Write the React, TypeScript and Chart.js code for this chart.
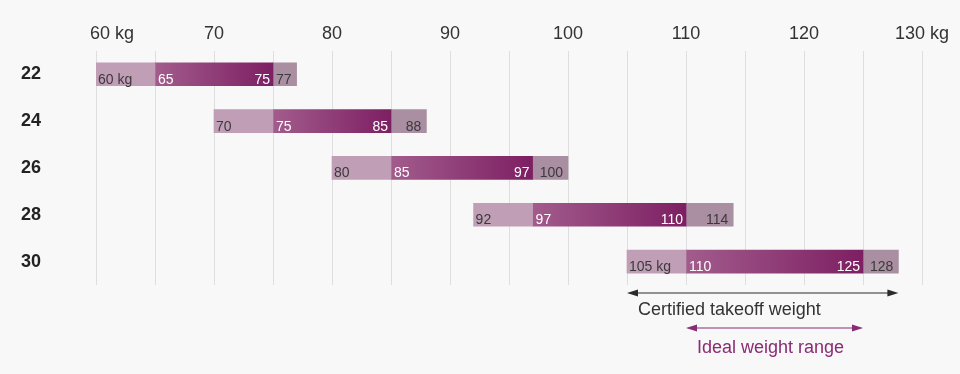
import React, { useEffect, useRef } from "react";
import { Chart, registerables } from "chart.js";

Chart.register(...registerables);

// ---- data ----
const rowLabels = ["22", "24", "26", "28", "30"];
const certMin = [60, 70, 80, 92, 105];
const idealMin = [65, 75, 85, 97, 110];
const idealMax = [75, 85, 97, 110, 125];
const certMax = [77, 88, 100, 114, 128];
const certMinLabels = ["60 kg", "70", "80", "92", "105 kg"];
const idealMinLabels = ["65", "75", "85", "97", "110"];
const idealMaxLabels = ["75", "85", "97", "110", "125"];
const certMaxLabels = ["77", "88", "100", "114", "128"];
const xMin = 60;
const xMax = 130;
const xStep = 5;
const xTickLabels: Record<number, string> = {
  60: "60 kg", 70: "70", 80: "80", 90: "90", 100: "100", 110: "110", 120: "120", 130: "130 kg",
};
const certifiedRange = [105, 128];
const idealRange = [110, 125];
const certifiedText = "Certified takeoff weight";
const idealText = "Ideal weight range";

const FONT = "'Liberation Sans', Arial, Helvetica, sans-serif";
const BG = "#f8f8f8";

const labelsPlugin = {
  id: "labelsPlugin",
  afterDraw(chart: any) {
    const ctx = chart.ctx;
    const xs = chart.scales.x;
    const meta = chart.getDatasetMeta(1);
    const area = chart.chartArea;
    ctx.save();
    // first x tick label, drawn left-aligned at its grid line
    ctx.font = `18px ${FONT}`;
    ctx.fillStyle = "#333333";
    ctx.textAlign = "left";
    ctx.textBaseline = "alphabetic";
    ctx.fillText(xTickLabels[xMin], xs.getPixelForValue(xMin) - 6, area.top - 12);

    ctx.font = `14px ${FONT}`;
    rowLabels.forEach((_, i) => {
      const el = meta.data[i];
      if (!el) return;
      const bottom = el.y + el.height / 2;
      const by = bottom - 2;
      const a = xs.getPixelForValue(certMin[i]);
      const b = xs.getPixelForValue(idealMin[i]);
      const c = xs.getPixelForValue(idealMax[i]);
      const d = xs.getPixelForValue(certMax[i]);
      ctx.fillStyle = "#3a3a3a";
      ctx.textAlign = "left";
      ctx.fillText(certMinLabels[i], a + 2, by);
      ctx.fillStyle = "#ffffff";
      ctx.fillText(idealMinLabels[i], b + 3, by);
      ctx.textAlign = "right";
      ctx.fillText(idealMaxLabels[i], c - 3, by);
      ctx.fillStyle = "#3a3a3a";
      ctx.fillText(certMaxLabels[i], d - 5, by);
    });

    const drawArrow = (x0: number, x1: number, y: number, color: string) => {
      ctx.strokeStyle = color;
      ctx.fillStyle = color;
      ctx.lineWidth = 1.2;
      ctx.beginPath();
      ctx.moveTo(x0 + 6, y);
      ctx.lineTo(x1 - 6, y);
      ctx.stroke();
      ctx.beginPath();
      ctx.moveTo(x0, y);
      ctx.lineTo(x0 + 11, y - 3.5);
      ctx.lineTo(x0 + 11, y + 3.5);
      ctx.closePath();
      ctx.fill();
      ctx.beginPath();
      ctx.moveTo(x1, y);
      ctx.lineTo(x1 - 11, y - 3.5);
      ctx.lineTo(x1 - 11, y + 3.5);
      ctx.closePath();
      ctx.fill();
    };
    const cx0 = xs.getPixelForValue(certifiedRange[0]);
    const cx1 = xs.getPixelForValue(certifiedRange[1]);
    const ix0 = xs.getPixelForValue(idealRange[0]);
    const ix1 = xs.getPixelForValue(idealRange[1]);
    const base = area.bottom;
    drawArrow(cx0, cx1, base + 8, "#2b2b2b");
    ctx.font = `18px ${FONT}`;
    ctx.textAlign = "left";
    ctx.fillStyle = "#333333";
    ctx.fillText(certifiedText, cx0 + 11, base + 30);
    drawArrow(ix0, ix1, base + 43, "#8b2a75");
    ctx.fillStyle = "#8b2a75";
    ctx.fillText(idealText, ix0 + 11, base + 68);
    ctx.restore();
  },
};

export default function App() {
  const ref = useRef<HTMLCanvasElement | null>(null);
  useEffect(() => {
    document.body.style.margin = "0";
    document.body.style.background = BG;
    const canvas = ref.current!;
    const chart = new Chart(canvas, {
      type: "bar",
      data: {
        labels: rowLabels,
        datasets: [
          {
            data: rowLabels.map((_, i) => [certMin[i], idealMin[i]]),
            backgroundColor: "#c09eb6",
            grouped: false,
            barThickness: 23,
            borderWidth: 0,
          } as any,
          {
            data: rowLabels.map((_, i) => [idealMin[i], idealMax[i]]),
            backgroundColor: (ctx: any) => {
              const chart = ctx.chart;
              const xs = chart.scales?.x;
              if (!chart.chartArea || !xs || ctx.dataIndex == null) return "#8e3a77";
              const i = ctx.dataIndex;
              const x0 = xs.getPixelForValue(idealMin[i]);
              const x1 = xs.getPixelForValue(idealMax[i]);
              const g = chart.ctx.createLinearGradient(x0, 0, x1, 0);
              g.addColorStop(0, "#a25c8c");
              g.addColorStop(1, "#7d1f63");
              return g;
            },
            grouped: false,
            barThickness: 23,
            borderWidth: 0,
          } as any,
          {
            data: rowLabels.map((_, i) => [idealMax[i], certMax[i]]),
            backgroundColor: "#aa8ea1",
            grouped: false,
            barThickness: 23,
            borderWidth: 0,
          } as any,
        ],
      },
      options: {
        indexAxis: "y",
        animation: false,
        responsive: false,
        layout: { padding: { top: 0, right: 38, bottom: 82, left: 0 } },
        plugins: { legend: { display: false }, tooltip: { enabled: false } },
        scales: {
          x: {
            position: "top",
            min: xMin,
            max: xMax,
            afterFit: (s: any) => { s.height = 35; },
            ticks: {
              stepSize: xStep,
              autoSkip: false,
              maxRotation: 0,
              padding: 6,
              color: "#333333",
              font: { family: FONT, size: 18 },
              callback: (v: any) => (v === xMin ? "" : xTickLabels[v] ?? ""),
            },
            grid: { color: "#dedede", lineWidth: 1, drawTicks: false },
            border: { display: false },
          },
          y: {
            afterFit: (s: any) => { s.width = 96; },
            ticks: {
              padding: 47,
              color: "#222222",
              font: { family: FONT, size: 18, weight: "bold" },
            },
            grid: { display: false },
            border: { display: false },
          },
        },
      } as any,
      plugins: [labelsPlugin],
    });
    return () => chart.destroy();
  }, []);
  return (
    <div style={{ width: 960, height: 374, background: BG, overflow: "hidden" }}>
      <canvas ref={ref} width={960} height={374} style={{ display: "block", marginTop: -7 }} />
    </div>
  );
}
